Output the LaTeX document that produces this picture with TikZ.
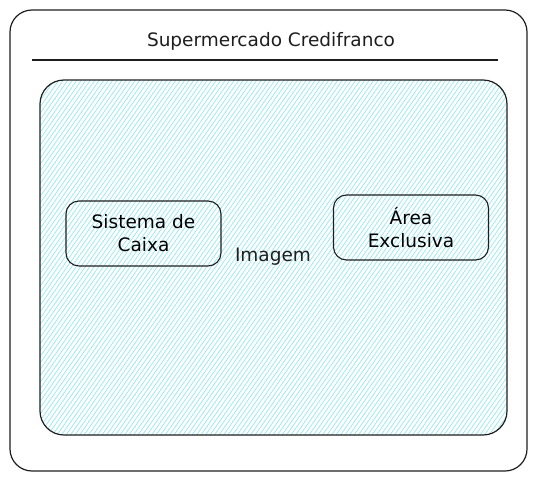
\documentclass[tikz,border=0pt]{standalone}
\usepackage{fontspec}
\setmainfont{DejaVu Sans}
\usetikzlibrary{positioning}
\definecolor{ink}{HTML}{1E1E1E}
\definecolor{hatchcyan}{HTML}{99E9F2}
\tikzstyle{frame}=[draw=ink,line width=1.2pt,rounded corners=22pt]
\tikzstyle{hatch}=[hatchcyan,line width=0.75pt]
\tikzstyle{box}=[draw=ink,line width=1.1pt,rounded corners=13pt,align=center,
  minimum width=155pt,minimum height=65pt,inner sep=2pt,font=\fontsize{18.5}{23}\selectfont]
\tikzstyle{label}=[font=\fontsize{18.5}{23}\selectfont,text=ink]

\begin{document}
\begin{tikzpicture}[x=1pt,y=-1pt]
  \useasboundingbox (0,0) rectangle (536,482);

  % outer frame and title
  \draw[frame] (10,10) rectangle (527,471);
  \node[label] (title) at (271,41) {Supermercado Credifranco};
  \coordinate (ruleL) at (32,60);
  \coordinate (ruleR) at (498,60);
  \draw[ink,line width=1.2pt] (ruleL) -- (ruleR);

  % image area
  \begin{scope}
    \clip[rounded corners=24pt] (40,80) rectangle (507,435);
    \foreach \i in {-230,-225.5,...,515}
      \draw[hatch] (\i,440) -- ++(260,-370);
  \end{scope}
  \draw[frame,rounded corners=24pt] (40,80) rectangle (507,435);

  \node[box] (caixa) at (143.5,233.5) {Sistema de\\Caixa};
  \node[box] (area) at (411,227.5) {Área\\Exclusiva};
  \node[label] (imagem) at (273,257) {Imagem};
\end{tikzpicture}
\end{document}
